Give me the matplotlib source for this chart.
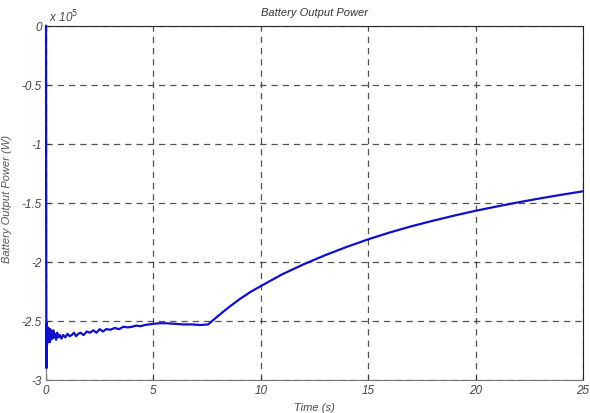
import matplotlib
matplotlib.use("Agg")
import matplotlib.pyplot as plt
import numpy as np

# Battery output power (units of 1e5 W) vs time (s)
time_s = [0.0, 0.004, 0.008, 0.012, 0.016, 0.02, 0.025, 0.03, 0.04, 0.05, 0.06, 0.07,
          0.08, 0.1, 0.12, 0.14, 0.16, 0.18, 0.2, 0.23, 0.26, 0.3, 0.34, 0.38, 0.42,
          0.47, 0.52, 0.58, 0.65, 0.72, 0.8, 0.9, 1.0, 1.1, 1.2, 1.3, 1.4, 1.5, 1.6,
          1.75, 1.9, 2.05, 2.2, 2.35, 2.5, 2.65, 2.8, 3.0, 3.2, 3.4, 3.6, 3.8, 4.0,
          4.2, 4.4, 4.6, 4.8, 5.0, 5.3, 5.6, 6.0, 6.4, 6.8, 7.2, 7.55,
          8.0, 8.5, 9.0, 9.5, 10.0, 11.0, 12.0, 13.0, 14.0, 15.0, 16.0, 17.0,
          18.0, 19.0, 20.0, 21.0, 22.0, 23.0, 24.0, 25.0]
power_e5 = [0.0, -1.2, -1.87, -2.3, -2.75, -2.9, -2.6, -2.78, -2.52, -2.7, -2.55, -2.68,
            -2.58, -2.66, -2.56, -2.64, -2.6, -2.68, -2.57, -2.66, -2.6, -2.65, -2.58,
            -2.64, -2.61, -2.66, -2.6, -2.64, -2.62, -2.65, -2.62, -2.64, -2.61, -2.63,
            -2.62, -2.6, -2.63, -2.61, -2.6, -2.62, -2.59, -2.6, -2.58, -2.6, -2.57,
            -2.59, -2.57, -2.575, -2.56, -2.57, -2.55, -2.555, -2.55, -2.54, -2.545,
            -2.535, -2.53, -2.525, -2.52, -2.52, -2.525, -2.53, -2.53, -2.535, -2.53,
            -2.46, -2.386, -2.318, -2.257, -2.205, -2.105, -2.02, -1.943, -1.873, -1.809,
            -1.751, -1.699, -1.652, -1.608, -1.567, -1.53, -1.495, -1.462, -1.431, -1.402]

x_ticks = [0, 5, 10, 15, 20, 25]
y_ticks = [0, -0.5, -1, -1.5, -2, -2.5, -3]
y_tick_labels = ["0", "-0.5", "-1", "-1.5", "-2", "-2.5", "-3"]

plt.rcParams['font.family'] = ['Liberation Sans', 'DejaVu Sans']

fig = plt.figure(figsize=(5.9, 4.14), dpi=100)
ax = fig.add_axes([0.078, 0.080, 0.910, 0.855])
ax.plot(time_s, power_e5, color='#1010c8', lw=1.6, zorder=3, clip_on=False)
ax.set_xlim(0, 25)
ax.set_ylim(-3, 0)
ax.set_xticks(x_ticks)
ax.set_xticklabels([str(v) for v in x_ticks])
ax.set_yticks(y_ticks)
ax.set_yticklabels(y_tick_labels)
ax.grid(True, color='#333333', linestyle=(0, (5, 4)), lw=0.9, alpha=0.85)
ax.tick_params(direction='in', length=3, labelsize=8.5, colors='#333333', pad=3)
for lab in ax.get_xticklabels() + ax.get_yticklabels():
    lab.set_fontstyle('italic')
    lab.set_color('#444444')
for s in ['left', 'bottom']:
    ax.spines[s].set_color('#777777')
for s in ['top', 'right']:
    ax.spines[s].set_color('#222222')

ax.set_title('Battery Output Power', fontsize=8, fontstyle='italic', color='#333333', pad=8)
ax.set_xlabel('Time (s)', fontsize=8, fontstyle='italic', color='#444444', labelpad=4)
fig.text(0.003, 0.52, 'Battery Output Power (W)', rotation=90, fontsize=8,
         fontstyle='italic', color='#555555', ha='left', va='center')
fig.text(0.083, 0.938, r'x 10$^5$', fontsize=8.5, fontstyle='italic', color='#444444',
         ha='left', va='bottom')

fig.savefig('out.png', dpi=100)
